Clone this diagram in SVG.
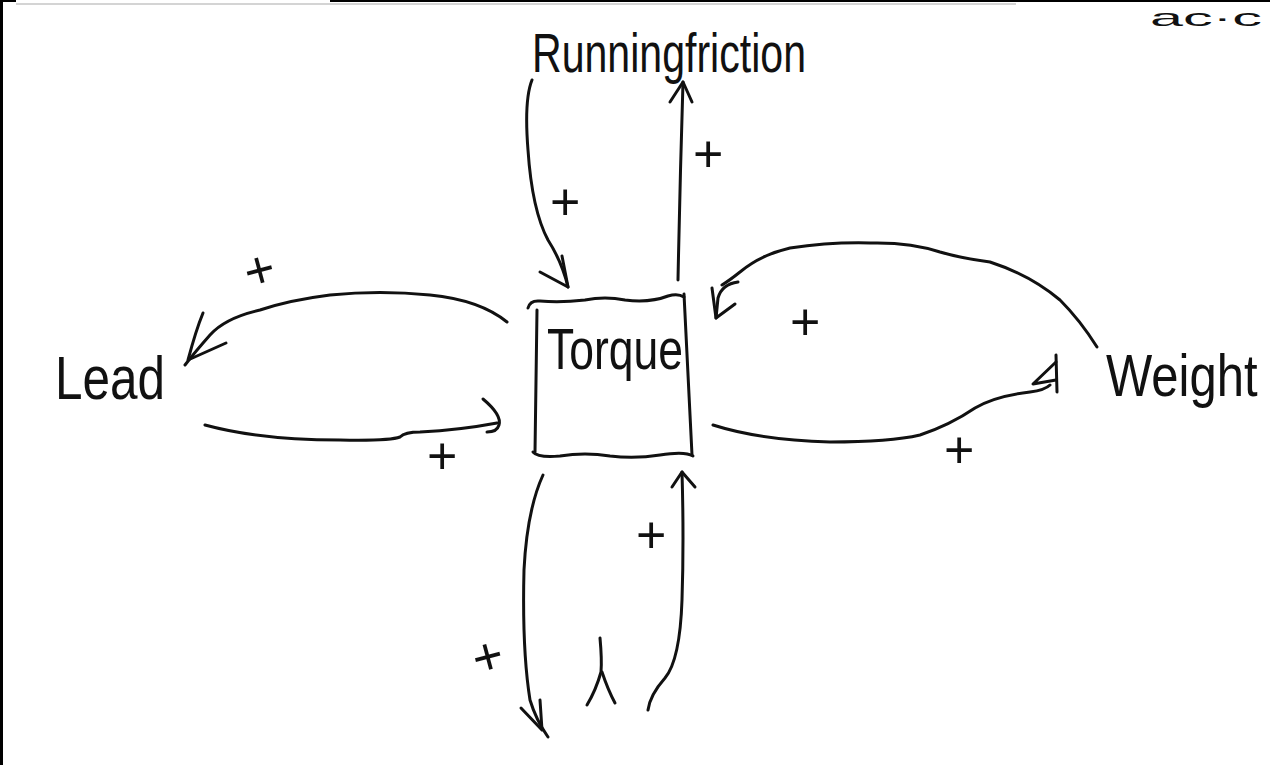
<svg xmlns="http://www.w3.org/2000/svg" width="1270" height="765" viewBox="0 0 1270 765">
<style>
.ink{fill:none;stroke:#111;stroke-width:3;stroke-linecap:round;stroke-linejoin:round}
.lbl{font-family:"Liberation Sans","DejaVu Sans",sans-serif;fill:#111}
.plus{font-family:"Liberation Sans",sans-serif;font-size:52px;fill:#111}
</style>
<rect width="1270" height="765" fill="#fff"/>
<g id="frame">
<line x1="1.5" y1="0" x2="1.5" y2="765" stroke="#000" stroke-width="3"/>
<line x1="0" y1="1" x2="16" y2="1" stroke="#000" stroke-width="2"/>
<line x1="330" y1="1" x2="1270" y2="1" stroke="#000" stroke-width="2"/>
<line x1="16" y1="4" x2="1016" y2="4" stroke="#d4d4d4" stroke-width="2"/>
<text class="lbl" x="1150" y="26" font-size="24" textLength="112" lengthAdjust="spacingAndGlyphs">ac·c</text>
</g>
<g id="node-running-friction">
<text class="lbl" x="532" y="72" font-size="56" textLength="274" lengthAdjust="spacingAndGlyphs">Runningfriction</text>
</g>
<g id="node-torque">
<path class="ink" d="M528,308 Q530,300 540,301 Q560,303 585,300 Q605,296 625,300 Q650,303 668,296 Q678,293 684,297"/>
<path class="ink" d="M537,310 Q536,380 535,452"/>
<path class="ink" d="M684,294 Q688,380 692,455"/>
<path class="ink" d="M533,452 Q538,458 560,456 Q585,452 610,456 Q635,459 660,455 Q685,451 693,456"/>
<text class="lbl" x="547" y="369" font-size="58" textLength="136" lengthAdjust="spacingAndGlyphs">Torque</text>
</g>
<g id="node-lead">
<text class="lbl" x="55" y="399" font-size="62" textLength="110" lengthAdjust="spacingAndGlyphs">Lead</text>
</g>
<g id="node-weight">
<text class="lbl" transform="translate(1106,396) scale(1,1.2)" x="0" y="0" font-size="49">Weight</text>
</g>
<g id="connectors">
<!-- Running friction -> Torque -->
<path class="ink" d="M532,80 Q524,100 528,150 Q532,210 548,240 Q562,262 568,287"/>
<path class="ink" d="M540,272 L568,287 L562,256"/>
<text class="plus" x="550" y="220">+</text>
<!-- Torque -> Running friction -->
<path class="ink" d="M678,280 Q680,180 683,82"/>
<path class="ink" d="M670,102 L683,82 L692,102"/>
<text class="plus" x="693" y="172">+</text>
<!-- Torque -> Lead -->
<path class="ink" d="M507,322 Q480,300 430,295 Q380,290 330,295 Q290,300 260,310 Q225,318 210,335 Q195,352 185,365"/>
<path class="ink" d="M203,313 Q196,330 188,360 L226,343"/>
<text class="plus" x="244" y="288" transform="rotate(-15 258 270)">+</text>
<!-- Lead -> Torque -->
<path class="ink" d="M205,425 Q260,440 340,440 Q390,441 400,437 Q405,432 420,432 Q460,430 497,423"/>
<path class="ink" d="M483,399 Q502,415 499,425 Q497,432 487,432"/>
<text class="plus" x="427" y="474">+</text>
<!-- Weight -> Torque -->
<path class="ink" d="M1097,347 Q1080,320 1060,300 Q1030,275 990,262 Q960,258 940,252 Q910,242 870,243 Q830,242 790,248 Q760,255 740,272 Q730,280 722,285"/>
<path class="ink" d="M738,282 Q722,284 718,298 L716,318 L735,304"/>
<path class="ink" d="M712,288 L716,318"/>
<text class="plus" x="790" y="340">+</text>
<!-- Torque -> Weight -->
<path class="ink" d="M713,425 Q760,440 830,442 Q890,442 920,435 Q950,425 975,408 Q995,396 1030,392 Q1045,390 1050,385"/>
<path class="ink" d="M1056,355 L1057,392"/>
<path class="ink" d="M1056,362 L1033,384 L1056,380"/>
<text class="plus" x="944" y="468">+</text>
<!-- Torque -> bottom -->
<path class="ink" d="M543,475 Q527,510 524,570 Q522,650 530,700 Q536,720 548,737"/>
<path class="ink" d="M521,708 L542,730 L540,700"/>
<text class="plus" x="472" y="674" transform="rotate(-15 488 655)">+</text>
<!-- bottom -> Torque -->
<path class="ink" d="M648,710 Q650,695 665,678 Q680,660 682,600 Q684,540 682,472"/>
<path class="ink" d="M672,487 L682,472 L695,487"/>
<text class="plus" x="636" y="553">+</text>
<!-- partial mark -->
<path class="ink" d="M600,638 Q602,660 601,672 Q596,690 587,705"/>
<path class="ink" d="M602,672 Q608,690 615,703"/>
</g>
</svg>
